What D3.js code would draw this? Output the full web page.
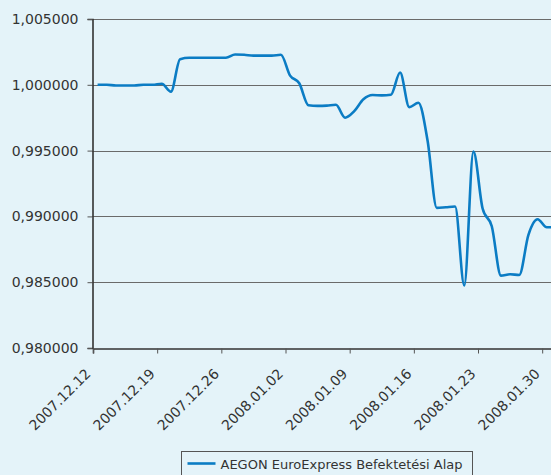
<!DOCTYPE html>
<html>
<head>
<meta charset="utf-8">
<script src="https://cdn.jsdelivr.net/npm/d3@7"></script>
<style>
  html, body { margin: 0; padding: 0; background: #e4f3f9; }
  svg { display: block; }
  text { font-family: "DejaVu Sans", sans-serif; fill: #333; }
</style>
</head>
<body>
<div id="main"></div>
<script>

var width = 551,
    height = 475;

// daily net asset value, 2007.12.12 - 2008.01.31
var startDate = "2007.12.12";
var values = [
    1.00000, 1.00000, 0.99995, 0.99995, 0.99995, 1.00000, 1.00000, 1.00008,
    0.99948, 1.00195, 1.00205, 1.00205, 1.00205, 1.00205, 1.00205, 1.00230,
    1.00228, 1.00222, 1.00222, 1.00222, 1.00228, 1.00070, 1.00012, 0.99845,
    0.99840, 0.99842, 0.99848, 0.99750, 0.99800, 0.99890, 0.99922, 0.99920,
    0.99925, 1.00093, 0.99830, 0.99864, 0.99575, 0.99065, 0.99070, 0.99075,
    0.98475, 0.99492, 0.99060, 0.98925, 0.98550, 0.98560, 0.98555, 0.98860,
    0.98978, 0.98917, 0.98917
];

var yTicks = [0.980, 0.985, 0.990, 0.995, 1.000, 1.005];
var xTickLabels = ["2007.12.12", "2007.12.19", "2007.12.26", "2008.01.02",
                   "2008.01.09", "2008.01.16", "2008.01.23", "2008.01.30"];
var seriesName = "AEGON EuroExpress Befektetési Alap";

var parseDate = d3.timeParse("%Y.%m.%d");
var DAY = 24 * 3600 * 1000;

var data = values.map(function(v, i) {
    // points sit in the middle of their day
    return { date: new Date(parseDate(startDate).getTime() + i * DAY + DAY / 2), value: v };
});

var margin = { left: 92, top: 19, right: 560, bottom: 348 };

var x = d3.scaleTime()
    .domain([parseDate(startDate), d3.timeDay.offset(parseDate(startDate), 51)])
    .range([margin.left + 1, margin.left + 1 + 51 * 9.167]);

var y = d3.scaleLinear()
    .domain([0.980, 1.005])
    .range([margin.bottom, margin.top]);

var svg = d3.select("div#main")
    .append("svg")
    .attr("width", width)
    .attr("height", height);

// horizontal grid
svg.selectAll(".grid")
    .data(yTicks.slice(1))
    .enter().append("line")
    .attr("class", "grid")
    .attr("x1", margin.left)
    .attr("x2", margin.right)
    .attr("y1", function(d) { return Math.round(y(d)) + 0.5; })
    .attr("y2", function(d) { return Math.round(y(d)) + 0.5; })
    .attr("stroke", "#6a6a6a")
    .attr("stroke-width", 1.2);

// y axis
var yAxis = svg.append("g")
    .attr("transform", "translate(" + (margin.left + 0.5) + ",0)")
    .call(d3.axisLeft(y)
        .tickValues(yTicks)
        .tickSize(5)
        .tickPadding(9)
        .tickFormat(function(d) { return d3.format(".6f")(d).replace(".", ","); }));

// x axis
var xAxis = svg.append("g")
    .attr("transform", "translate(0," + (margin.bottom + 0.5) + ")")
    .call(d3.axisBottom(x)
        .tickValues(xTickLabels.map(parseDate))
        .tickSize(5)
        .tickFormat(d3.timeFormat("%Y.%m.%d")));

[yAxis, xAxis].forEach(function(ax) {
    ax.select(".domain").attr("stroke", "#333").attr("stroke-width", 1.6);
    ax.selectAll(".tick line").attr("stroke", "#555");
    ax.selectAll("text").attr("font-size", 14).attr("fill", "#333")
        .attr("font-family", "DejaVu Sans, sans-serif");
});

xAxis.selectAll("text")
    .attr("text-anchor", "end")
    .attr("dy", "0.35em")
    .attr("transform", "translate(-11,17) rotate(-45)");

// series line
var line = d3.line()
    .x(function(d) { return x(d.date); })
    .y(function(d) { return y(d.value); })
    .curve(d3.curveMonotoneX);

svg.append("path")
    .datum(data)
    .attr("d", line)
    .attr("fill", "none")
    .attr("stroke", "#0b7cc4")
    .attr("stroke-width", 2.6)
    .attr("stroke-linejoin", "round");

// legend
var legend = svg.append("g").attr("transform", "translate(181.5,451.5)");
legend.append("rect")
    .attr("width", 291)
    .attr("height", 40)
    .attr("fill", "none")
    .attr("stroke", "#555");
legend.append("line")
    .attr("x1", 6).attr("x2", 34)
    .attr("y1", 12).attr("y2", 12)
    .attr("stroke", "#0b7cc4")
    .attr("stroke-width", 2.6);
legend.append("text")
    .attr("x", 39)
    .attr("y", 17)
    .attr("font-size", 13)
    .text(seriesName);

</script>
</body>
</html>
